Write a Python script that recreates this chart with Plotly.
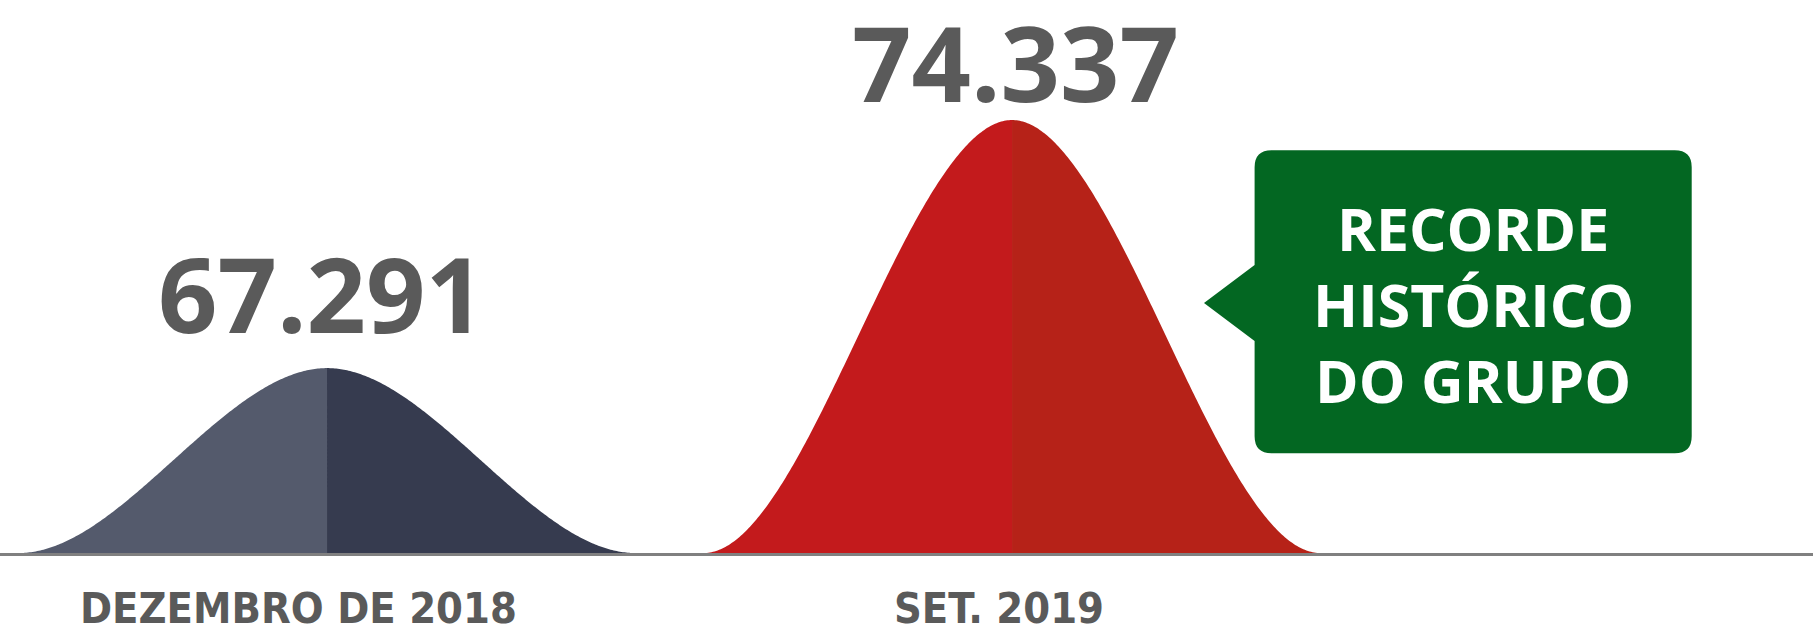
import numpy as np
import plotly.graph_objects as go

# ---- data ----
categories = ["DEZEMBRO DE 2018", "SET. 2019"]
values = [67.291, 74.337]
value_labels = ["67.291", "74.337"]
callout_lines = ["RECORDE", "HISTÓRICO", "DO GRUPO"]

# ---- style ----
W, H = 1813, 626
left_colors = ["#545a6c", "#c31a1c"]
right_colors = ["#363b4f", "#b62218"]
text_gray = "#5a5a5a"
green = "#036722"
axis_floor = 62.04          # value at which the humps start (baseline)
half_width = 0.45           # half width of a hump in category units
y_range = [59.967, 77.745]
x_range = [-0.4774, 2.1693]

# hump glyph profile (smooth S-shaped sides, normalised 0..1)
t = np.linspace(-1, 1, 401)
u = np.abs(t)
profile = 1 - (3 * u ** 2 - 2 * u ** 3)

fig = go.Figure()
for i, v in enumerate(values):
    xs = i + t * half_width
    ys = axis_floor + profile * (v - axis_floor)
    mid = len(t) // 2
    for part, col in ((slice(0, mid + 1), left_colors[i]), (slice(mid, None), right_colors[i])):
        px = xs[part]
        py = ys[part]
        xx = np.concatenate([[px[0]], px, [px[-1]]])
        yy = np.concatenate([[axis_floor], py, [axis_floor]])
        fig.add_trace(go.Scatter(x=xx, y=yy, mode="lines", fill="toself",
                                 fillcolor=col, line=dict(width=0, color=col, simplify=False),
                                 hoverinfo="skip", showlegend=False))

# baseline
fig.add_shape(type="rect", xref="paper", x0=0, x1=1, yref="y", ysizemode="pixel",
              yanchor=axis_floor, y0=-3, y1=0, fillcolor="#808080", line_width=0,
              layer="above")

# value labels
val_xshift = [-6, 3]
val_yshift = [76, 59]
for i, v in enumerate(values):
    fig.add_annotation(x=i, y=v, text=value_labels[i], showarrow=False,
                       xanchor="center", yanchor="middle",
                       xshift=val_xshift[i], yshift=val_yshift[i],
                       font=dict(family="Open Sans", size=104, color=text_gray, weight="bold"))

# category labels
cat_xshift = [-29, -13]
for i, c in enumerate(categories):
    fig.add_annotation(x=i, y=1 - 581 / H, yref="paper", text=c, showarrow=False,
                       xanchor="center", yanchor="top", xshift=cat_xshift[i],
                       font=dict(family="DejaVu Sans Condensed", size=43, color=text_gray,
                                 weight="bold"))

# callout box with pointer
def fx(p):
    return p / W

def fy(p):
    return 1 - p / H

L, R, T, B, r = 1254.6, 1691.7, 150.3, 453.3, 17
tip = (1204, 303)
pb0, pb1 = 265, 341
pts = [
    f"M{fx(L + r)},{fy(T)}",
    f"L{fx(R - r)},{fy(T)}",
    f"Q{fx(R)},{fy(T)} {fx(R)},{fy(T + r)}",
    f"L{fx(R)},{fy(B - r)}",
    f"Q{fx(R)},{fy(B)} {fx(R - r)},{fy(B)}",
    f"L{fx(L + r)},{fy(B)}",
    f"Q{fx(L)},{fy(B)} {fx(L)},{fy(B - r)}",
    f"L{fx(L)},{fy(pb1)}",
    f"L{fx(tip[0])},{fy(tip[1])}",
    f"L{fx(L)},{fy(pb0)}",
    f"L{fx(L)},{fy(T + r)}",
    f"Q{fx(L)},{fy(T)} {fx(L + r)},{fy(T)}",
    "Z",
]
fig.add_shape(type="path", xref="paper", yref="paper", path=" ".join(pts),
              fillcolor=green, line_width=0, layer="above")
line_centers = [228, 304, 380]
for txt, yc in zip(callout_lines, line_centers):
    fig.add_annotation(x=fx((L + R) / 2), y=fy(yc), xref="paper", yref="paper",
                       text=txt, showarrow=False,
                       xanchor="center", yanchor="middle", align="center",
                       font=dict(family="Open Sans", size=59, color="white", weight="bold"))

fig.update_layout(
    width=W, height=H, margin=dict(l=0, r=0, t=0, b=0),
    paper_bgcolor="white", plot_bgcolor="white",
    xaxis=dict(range=x_range, visible=False, fixedrange=True),
    yaxis=dict(range=y_range, visible=False, fixedrange=True),
    showlegend=False,
)
fig.write_html("out.html", config={"displayModeBar": False},
               post_script="document.body.style.margin='0';document.body.style.overflow='hidden';")
